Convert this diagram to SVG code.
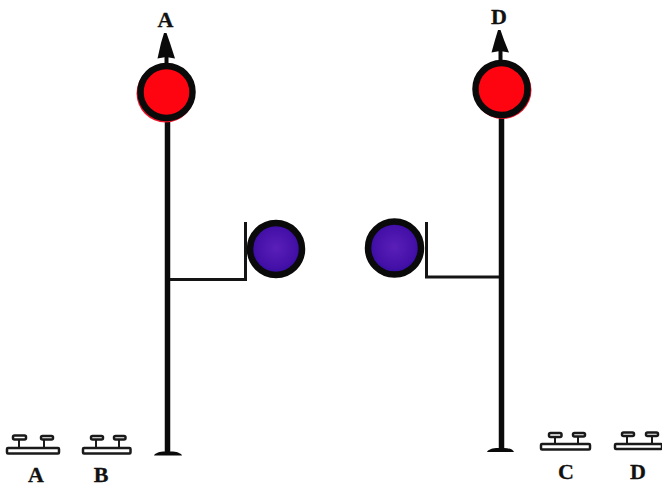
<svg xmlns="http://www.w3.org/2000/svg" width="662" height="485" viewBox="0 0 662 485">
<defs>
<radialGradient id="violet" cx="50%" cy="48%" r="55%"><stop offset="0" stop-color="#5a1fb8"/><stop offset="0.7" stop-color="#4410a8"/><stop offset="1" stop-color="#2a0c9c"/></radialGradient>
</defs>
<style>
.mast{stroke:#0a0a0a;stroke-width:5.500;fill:none}
.arm{stroke:#141414;stroke-width:3;fill:none}
.foot{fill:#0a0a0a}
.head{fill:#0a0a0a}
.red{fill:#fd0410;stroke:#0a0a0a;stroke-width:6.500}
.blue{fill:url(#violet);stroke:#0a0a0a;stroke-width:6.500}
.shadow{fill:#f0142a}
.rail{fill:#fff;stroke:#1a1a1a;stroke-width:2.500}
.cap{fill:#fff;stroke:#1a1a1a;stroke-width:2.500}
.post{stroke:#1a1a1a;stroke-width:2;fill:none}
text{font-family:"Liberation Serif","Times New Roman",serif;font-weight:bold;font-size:22px;fill:#111;stroke:#111;stroke-width:0.300;text-anchor:middle}
</style>
<rect width="662" height="485" fill="#fff"/>
<g id="connectors">
<path class="mast" d="M167.500 120V452"/>
<path class="mast" d="M501.500 117V448"/>
<path class="mast" style="stroke-width:4" d="M166.500 56V64"/>
<path class="mast" style="stroke-width:4" d="M500.500 50V61"/>
<path class="arm" d="M170 279.500H245.500V222"/>
<path class="arm" d="M499 277H426.500V222"/>
</g>
<g id="signal-a">
<circle class="shadow" cx="165.500" cy="93.500" r="29"/>
<circle class="red" cx="166.500" cy="92" r="26"/>
<path class="head" d="M164 33H166.500L170 43L175 58.500L166 57L157.500 58.500L161 43Z"/>
<text x="165.500" y="27">A</text>
</g>
<g id="signal-d">
<circle class="shadow" cx="502.500" cy="90" r="29"/>
<circle class="red" cx="501.500" cy="89" r="26"/>
<path class="head" d="M498 30H500.500L504 40L509 52.500L500 51L491.500 52.500L495 40Z"/>
<text x="499" y="24">D</text>
</g>
<g id="lamp-left"><circle class="blue" cx="276" cy="249" r="26"/></g>
<g id="lamp-right"><circle class="blue" cx="394.500" cy="248" r="26.500"/></g>
<g id="foot-left"><path class="foot" d="M154 455.500C155 453 160 451.500 165 451.500H171C176 451.500 181 453 182 455.500Z"/></g>
<g id="foot-right"><path class="foot" d="M487 452C488 449.500 493 448 498 448H504C509 448 513 449.500 514 452Z"/></g>
<g id="track-a">
<path class="post" d="M19 438V448M44 438V448"/>
<rect class="rail" x="7" y="448" width="52" height="5.500" rx="1"/>
<rect class="cap" x="13" y="435.500" width="13" height="4" rx="1.500"/>
<rect class="cap" x="41" y="436" width="12" height="3.500" rx="1.500"/>
<text x="36" y="481.500">A</text>
</g>
<g id="track-b">
<path class="post" d="M96 439V448M119 439V448"/>
<rect class="rail" x="83" y="448" width="47.500" height="5.500" rx="1"/>
<rect class="cap" x="91" y="436" width="12" height="3.500" rx="1.500"/>
<rect class="cap" x="114" y="436" width="11.500" height="3.500" rx="1.500"/>
<text x="101" y="481.500">B</text>
</g>
<g id="track-c">
<path class="post" d="M555 436V444M578 436V444"/>
<rect class="rail" x="541" y="444" width="49" height="5.500" rx="1"/>
<rect class="cap" x="549" y="433" width="12.500" height="4" rx="1.500"/>
<rect class="cap" x="573" y="433" width="12" height="3.500" rx="1.500"/>
<text x="566" y="479">C</text>
</g>
<g id="track-d">
<path class="post" d="M627 435V444M652 435V444"/>
<rect class="rail" x="615" y="444" width="47" height="5" rx="1"/>
<rect class="cap" x="622" y="432.500" width="12" height="3.500" rx="1.500"/>
<rect class="cap" x="646" y="432.500" width="12" height="3.500" rx="1.500"/>
<text x="638" y="478.500">D</text>
</g>
</svg>
